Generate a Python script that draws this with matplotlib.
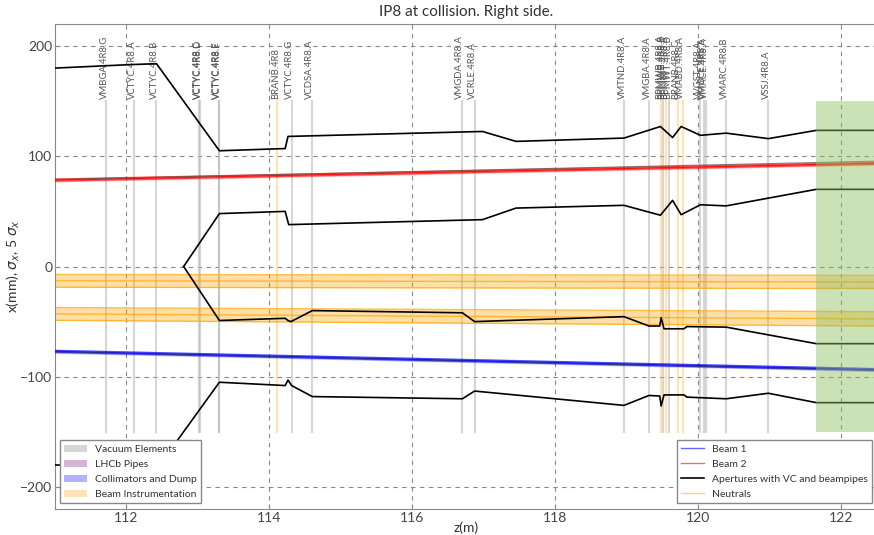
import matplotlib
matplotlib.use("Agg")
import matplotlib.pyplot as plt
from matplotlib.patches import Patch, Rectangle
from matplotlib.lines import Line2D
import numpy as np

plt.rcParams["font.family"] = ["Lato", "DejaVu Sans"]

# ---- element positions along z (m) ----
element_names = [
    "VMBGA.4R8.G", "VCTYC.4R8.A", "VCTYC.4R8.B", "VCTYC.4R8.C", "VCTYC.4R8.D",
    "VCTYC.4R8.E", "VCTYC.4R8.F", "BRANB.4R8", "VCTYC.4R8.G", "VCDSA.4R8.A",
    "VMGDA.4R8.A", "VCRLE.4R8.A", "VMTND.4R8.A", "VMGBA.4R8.A",
    "BPMWB.4R8.A", "BPMWB.4R8.B", "BPMWT.4R8.A", "BPMWT.4R8.B",
    "BRANB.4R8.C", "VMABD.4R8.A", "VVGST.4R8.A", "VMGCE.4R8.A", "VMACE.4R8.A",
    "VMARC.4R8.B", "VSSJ.4R8.A",
]
element_z = [
    111.72, 112.11, 112.42, 113.02, 113.03,
    113.29, 113.30, 114.11, 114.31, 114.59,
    116.69, 116.87, 118.96, 119.31,
    119.48, 119.51, 119.55, 119.59,
    119.71, 119.78, 120.03, 120.08, 120.11,
    120.39, 120.98,
]
element_kind = [
    "vac", "vac", "vac", "vac", "vac",
    "vac", "vac", "instr", "vac", "vac",
    "vac", "vac", "vac", "vac",
    "instr", "vac", "instr", "vac",
    "instr", "instr", "vac", "vac", "vac",
    "vac", "vac",
]

# ---- apertures (mm) ----
upper_outer_z = [111.0, 112.0, 112.42, 113.30, 114.22, 114.26, 116.98, 117.45,
                 118.96, 119.47, 119.64, 119.76, 120.03, 120.39, 120.98, 121.65, 122.5]
upper_outer_x = [180, 183, 184, 105, 107, 118, 122.5, 113.5,
                 116.5, 127, 117, 127, 119, 121, 116, 123.5, 123.5]

upper_inner_z = [112.80, 113.30, 114.22, 114.27, 116.98, 117.45, 118.96,
                 119.47, 119.64, 119.76, 120.03, 120.39, 121.65, 122.5]
upper_inner_x = [0, 48, 50, 38, 42.5, 53, 55.5,
                 46.5, 60, 47, 56, 55, 70, 70]

lower_inner_z = [112.80, 113.30, 114.22, 114.26, 114.30, 114.60, 116.70, 116.87,
                 118.96, 119.31, 119.46, 119.48, 119.52, 119.80, 119.84, 120.39,
                 121.65, 122.5]
lower_inner_x = [0, -49, -47, -49, -50, -40, -42, -50,
                 -45.5, -54, -54, -46.5, -56.5, -56.5, -54.5, -55,
                 -70, -70]

lower_outer_z = [111.0, 112.0, 112.42, 113.30, 114.22, 114.26, 114.31, 114.60,
                 116.70, 116.87, 118.96, 119.31, 119.46, 119.48, 119.52, 119.80,
                 119.84, 120.39, 120.98, 121.65, 122.5]
lower_outer_x = [-180, -183, -184, -105, -108, -103, -108, -118,
                 -120, -113, -126, -117, -117.5, -126.5, -116.5, -116.5,
                 -118.5, -120, -115, -123.5, -123.5]

# ---- beams: closed orbit at the ends of the range (mm) and 5 sigma half width ----
beam_z = [111.0, 122.5]
beam1_x = [-77.0, -93.6]
beam2_x = [78.4, 93.6]
beam_sigma5 = 1.8

# ---- neutral cones: centre and edges at the ends of the range (mm) ----
neutral_z = [111.0, 122.5]
neutral_a_center = [-13.0, -14.0]
neutral_a_half = [5.8, 6.0]
neutral_b_center = [-43.0, -47.5]
neutral_b_half = [5.8, 6.5]

# ---- shaded region (TAN) ----
tan_z = (121.65, 122.6)
tan_x = (-150, 150)

elem_top = 150
elem_bottom = -150

fig = plt.figure(figsize=(8.74, 5.35), dpi=100)
ax = fig.add_axes([55 / 874, 26 / 535, 822 / 874, 485 / 535])

grey_text = "#444444"

# vertical element markers and names
for name, z, kind in zip(element_names, element_z, element_kind):
    if kind == "instr":
        ax.plot([z, z], [elem_bottom, elem_top], color="orange", alpha=0.3, lw=1.5, zorder=1)
    else:
        ax.plot([z, z], [elem_bottom, elem_top], color="#bbbbbb", alpha=0.6, lw=1.5, zorder=1)
    ax.text(z - 0.025, elem_top + 2, name, rotation=90, ha="center", va="bottom",
            fontsize=6.8, color="#555555", zorder=2)

# neutral cones
for cen, half in [(neutral_a_center, neutral_a_half), (neutral_b_center, neutral_b_half)]:
    c = np.array(cen)
    h = np.array(half)
    ax.fill_between(neutral_z, c - h, c + h, color="orange", alpha=0.35, lw=0, zorder=2)
    for line in (c - h, c, c + h):
        ax.plot(neutral_z, line, color="orange", alpha=0.7, lw=1.0, zorder=2)

# beams with 5 sigma envelope
for xs, col in [(beam1_x, "blue"), (beam2_x, "red")]:
    c = np.array(xs)
    ax.fill_between(beam_z, c - beam_sigma5, c + beam_sigma5, color=col, alpha=0.25, lw=0, zorder=3)
    ax.plot(beam_z, c - beam_sigma5 * 0.55, color=col, alpha=0.6, lw=0.9, zorder=3)
    ax.plot(beam_z, c + beam_sigma5 * 0.55, color=col, alpha=0.6, lw=0.9, zorder=3)
    ax.plot(beam_z, c, color=col, alpha=0.9, lw=1.0, zorder=3)
ax.plot(beam_z, [beam2_x[0] + 0.5, beam2_x[1] + 2.0], color="#555555", alpha=0.7, lw=0.8, zorder=3)
ax.plot(beam_z, [beam1_x[0] - 0.3, beam1_x[1] - 0.6], color="#333366", alpha=0.7, lw=0.8, zorder=3)

# apertures
for zs, xs in [(upper_outer_z, upper_outer_x), (upper_inner_z, upper_inner_x),
               (lower_inner_z, lower_inner_x), (lower_outer_z, lower_outer_x)]:
    ax.plot(zs, xs, color="black", lw=1.2, zorder=4)

# TAN region
ax.add_patch(Rectangle((tan_z[0], tan_x[0]), tan_z[1] - tan_z[0], tan_x[1] - tan_x[0],
                       facecolor="#8cbf5f", alpha=0.45, lw=0, zorder=5))

ax.set_xlim(111.0, 122.5)
ax.set_ylim(-220, 220)
ax.set_xticks([112, 114, 116, 118, 120, 122])
ax.set_yticks([-200, -100, 0, 100, 200])
ax.set_yticklabels(["\u2212200", "\u2212100", "0", "100", "200"])
ax.grid(True, ls=(0, (4, 4)), color="#888888", lw=0.8, zorder=0)
ax.set_axisbelow(True)
for sp in ax.spines.values():
    sp.set_color("#888888")
ax.tick_params(direction="in", colors="#888888", labelcolor=grey_text, labelsize=10, pad=2)

ax.set_title("IP8 at collision. Right side.", fontsize=11, color="#333333", pad=6)
ax.set_xlabel("z(m)", fontsize=10, color="#333333", labelpad=-2)
ax.set_ylabel(r"x(mm), $\sigma_x$, 5 $\sigma_x$", fontsize=10, color="#333333")
ax.yaxis.set_label_coords(-0.040, 0.5)

h1 = [Patch(facecolor="#bbbbbb", alpha=0.6, label="Vacuum Elements"),
      Patch(facecolor="purple", alpha=0.3, label="LHCb Pipes"),
      Patch(facecolor="blue", alpha=0.3, label="Collimators and Dump"),
      Patch(facecolor="orange", alpha=0.3, label="Beam Instrumentation")]
leg1 = ax.legend(handles=h1, loc="lower left", bbox_to_anchor=(0.006, 0.012),
                 borderaxespad=0, fontsize=7.5, fancybox=False, framealpha=1,
                 edgecolor="#888888", handlelength=2.2, labelspacing=0.55)
for t in leg1.get_texts():
    t.set_color("#333333")
ax.add_artist(leg1)

h2 = [Line2D([], [], color="blue", alpha=0.6, lw=1, label="Beam 1"),
      Line2D([], [], color="red", alpha=0.6, lw=1, label="Beam 2"),
      Line2D([], [], color="black", lw=1.2, label="Apertures with VC and beampipes"),
      Line2D([], [], color="orange", alpha=0.5, lw=1, label="Neutrals")]
leg2 = ax.legend(handles=h2, loc="lower right", bbox_to_anchor=(0.994, 0.012),
                 borderaxespad=0, fontsize=7.5, fancybox=False, framealpha=1,
                 edgecolor="#888888", handlelength=2.2, labelspacing=0.55)
leg2.set_zorder(10)
for t in leg2.get_texts():
    t.set_color("#333333")

fig.savefig("out.png", dpi=100)
